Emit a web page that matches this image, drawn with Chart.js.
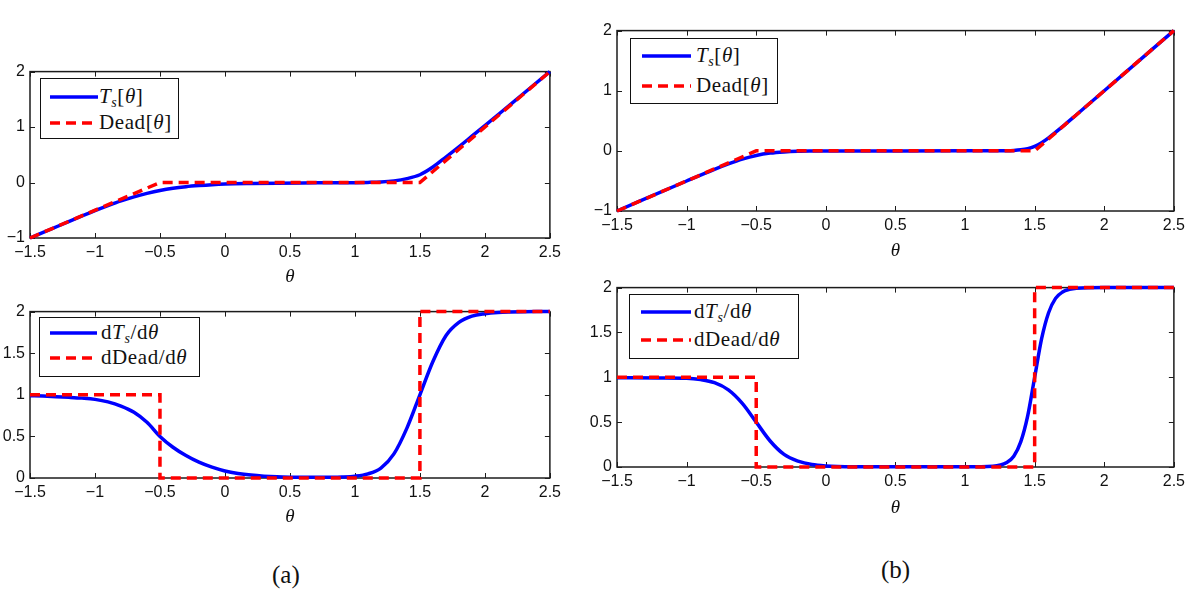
<!DOCTYPE html>
<html>
<head>
<meta charset="utf-8">
<script src="https://cdn.jsdelivr.net/npm/chart.js@4.4.1/dist/chart.umd.min.js"></script>
<style>
body{margin:0;background:#fff;width:1196px;height:597px;position:relative;overflow:hidden}
canvas{position:absolute}
.leg{position:absolute;border:1.5px solid #111;background:#fff;box-sizing:border-box;font-family:"Liberation Serif","Times New Roman",serif;font-size:21px;color:#111;letter-spacing:0.6px}
.row{position:absolute;left:0;height:0}
.row svg{position:absolute;top:-3px}
.row span{position:absolute;top:-13px;white-space:nowrap;line-height:24px}
.row sub{font-size:14px;vertical-align:-4px;line-height:0}
.cap{position:absolute;font-family:"Liberation Serif","Times New Roman",serif;font-size:25px;color:#111}
</style>
</head>
<body>
<canvas id="aTop"></canvas>
<canvas id="aBot"></canvas>
<canvas id="bTop"></canvas>
<canvas id="bBot"></canvas>

<div class="leg" style="left:40px;top:78px;width:139px;height:61px">
  <div class="row" style="top:18px"><svg style="left:9px" width="48" height="6"><line x1="0" y1="3" x2="48" y2="3" stroke="#0000ff" stroke-width="3.5"/></svg><span style="left:58px"><i>T</i><sub><i>s</i></sub>[<i>θ</i>]</span></div>
  <div class="row" style="top:44px"><svg style="left:9px" width="48" height="6"><line x1="0" y1="3" x2="48" y2="3" stroke="#ff0000" stroke-width="3.5" stroke-dasharray="10 6"/></svg><span style="left:58px">Dead[<i>θ</i>]</span></div>
</div>
<div class="leg" style="left:39px;top:317px;width:161px;height:60px">
  <div class="row" style="top:15px"><svg style="left:10px" width="47" height="6"><line x1="0" y1="3" x2="47" y2="3" stroke="#0000ff" stroke-width="3.5"/></svg><span style="left:61px">d<i>T</i><sub><i>s</i></sub>/d<i>θ</i></span></div>
  <div class="row" style="top:40px"><svg style="left:10px" width="47" height="6"><line x1="0" y1="3" x2="47" y2="3" stroke="#ff0000" stroke-width="3.5" stroke-dasharray="10 6"/></svg><span style="left:61px">dDead/d<i>θ</i></span></div>
</div>
<div class="leg" style="left:630px;top:38px;width:148px;height:66px">
  <div class="row" style="top:17px"><svg style="left:11px" width="49" height="6"><line x1="0" y1="3" x2="49" y2="3" stroke="#0000ff" stroke-width="3.5"/></svg><span style="left:65px"><i>T</i><sub><i>s</i></sub>[<i>θ</i>]</span></div>
  <div class="row" style="top:47px"><svg style="left:11px" width="49" height="6"><line x1="0" y1="3" x2="49" y2="3" stroke="#ff0000" stroke-width="3.5" stroke-dasharray="10 6"/></svg><span style="left:65px">Dead[<i>θ</i>]</span></div>
</div>
<div class="leg" style="left:629px;top:294px;width:170px;height:65px">
  <div class="row" style="top:17px"><svg style="left:11px" width="50" height="6"><line x1="0" y1="3" x2="50" y2="3" stroke="#0000ff" stroke-width="3.5"/></svg><span style="left:64px">d<i>T</i><sub><i>s</i></sub>/d<i>θ</i></span></div>
  <div class="row" style="top:45px"><svg style="left:11px" width="50" height="6"><line x1="0" y1="3" x2="50" y2="3" stroke="#ff0000" stroke-width="3.5" stroke-dasharray="10 6"/></svg><span style="left:64px">dDead/d<i>θ</i></span></div>
</div>

<div class="cap" style="left:272px;top:561px">(a)</div>
<div class="cap" style="left:881px;top:556px">(b)</div>

<script>
// ticks
var xTicks = [-1.5, -1, -0.5, 0, 0.5, 1, 1.5, 2, 2.5];
var yTicksTop = [-1, 0, 1, 2];
var yTicksBot = [0, 0.5, 1, 1.5, 2];

// dead zone and its derivative (same in both figures)
var deadTheta = [-1.5, -0.5, 1.5, 2.5];
var deadVal = [-1, 0, 0, 2];
var dDeadTheta = [-1.5, -0.5, -0.5, 1.5, 1.5, 2.5];
var dDeadVal = [1, 1, 0, 0, 2, 2];

// (a) smooth curve
var tsThetaA = [-1.5, -1.25, -1.0, -0.9, -0.8, -0.7, -0.6, -0.5, -0.4, -0.3, -0.2, -0.1, 0, 0.2, 0.4, 0.6, 0.8, 1.0, 1.1, 1.2, 1.3, 1.4, 1.5, 1.6, 1.7, 1.8, 1.9, 2.0, 2.2, 2.5];
var tsA = [-1.0, -0.752, -0.508, -0.417, -0.332, -0.258, -0.195, -0.142, -0.102, -0.074, -0.054, -0.038, -0.027, -0.017, -0.011, -0.007, -0.005, -0.002, 0.002, 0.01, 0.03, 0.07, 0.14, 0.28, 0.46, 0.645, 0.835, 1.025, 1.415, 2.0];
var dThetaA = [-1.5, -1.4, -1.3, -1.2, -1.1, -1.0, -0.9, -0.8, -0.7, -0.6, -0.5, -0.4, -0.3, -0.2, -0.1, 0, 0.1, 0.2, 0.3, 0.4, 0.5, 0.6, 0.7, 0.8, 0.9, 1.0, 1.1, 1.2, 1.3, 1.4, 1.5, 1.6, 1.7, 1.8, 1.9, 2.0, 2.1, 2.2, 2.3, 2.4, 2.5];
var dTsA = [0.99, 0.985, 0.978, 0.97, 0.96, 0.945, 0.915, 0.865, 0.79, 0.67, 0.50, 0.37, 0.27, 0.19, 0.13, 0.085, 0.055, 0.035, 0.022, 0.014, 0.01, 0.008, 0.008, 0.009, 0.012, 0.022, 0.05, 0.12, 0.29, 0.6, 1.0, 1.4, 1.71, 1.87, 1.945, 1.975, 1.99, 1.996, 1.999, 2.0, 2.0];

// (b) smooth curve
var tsThetaB = [-1.5, -1.0, -0.8, -0.7, -0.6, -0.5, -0.4, -0.3, -0.2, -0.1, 0, 1.0, 1.3, 1.35, 1.4, 1.45, 1.5, 1.55, 1.6, 1.7, 1.8, 2.0, 2.5];
var tsB = [-1.0, -0.501, -0.307, -0.217, -0.137, -0.076, -0.037, -0.017, -0.007, -0.003, -0.001, 0.0, 0.003, 0.007, 0.017, 0.037, 0.076, 0.137, 0.217, 0.403, 0.601, 1.0, 2.0];
var dThetaB = [-1.5, -1.2, -1.0, -0.9, -0.8, -0.7, -0.6, -0.5, -0.4, -0.3, -0.2, -0.1, 0, 0.2, 0.5, 1.0, 1.2, 1.3, 1.35, 1.4, 1.45, 1.5, 1.55, 1.6, 1.65, 1.7, 1.75, 1.8, 2.0, 2.5];
var dTsB = [0.995, 0.993, 0.99, 0.975, 0.94, 0.86, 0.71, 0.50, 0.29, 0.14, 0.065, 0.027, 0.012, 0.004, 0.003, 0.003, 0.009, 0.05, 0.12, 0.28, 0.57, 1.0, 1.43, 1.72, 1.88, 1.95, 1.98, 1.993, 2.0, 2.0];

function pts(xs, ys) {
    return xs.map(function (x, i) { return {x: x, y: ys[i]}; });
}

function fmt(v) {
    return String(v).replace('-', '\u2212');
}

// matlab style box with inward ticks on all four sides
var boxPlugin = {
    id: 'box',
    beforeDatasetsDraw: function (chart) {
        var ctx = chart.ctx, a = chart.chartArea, x = chart.scales.x, y = chart.scales.y;
        ctx.save();
        ctx.strokeStyle = '#1c1c1c';
        ctx.lineWidth = 1.5;
        ctx.strokeRect(a.left, a.top, a.right - a.left, a.bottom - a.top);
        ctx.lineWidth = 1;
        ctx.beginPath();
        x.ticks.forEach(function (t) {
            var px = Math.round(x.getPixelForValue(t.value)) + 0.5;
            ctx.moveTo(px, a.bottom); ctx.lineTo(px, a.bottom - 5);
            ctx.moveTo(px, a.top); ctx.lineTo(px, a.top + 5);
        });
        y.ticks.forEach(function (t) {
            var py = Math.round(y.getPixelForValue(t.value)) + 0.5;
            ctx.moveTo(a.left, py); ctx.lineTo(a.left + 5, py);
            ctx.moveTo(a.right, py); ctx.lineTo(a.right - 5, py);
        });
        ctx.stroke();
        ctx.restore();
    }
};

function panel(id, area, yTicks, blue, red, titleY) {
    var padL = 40, padT = 10, padR = 14, padB = titleY + 11;
    var c = document.getElementById(id);
    c.style.left = (area[0] - padL) + 'px';
    c.style.top = (area[2] - padT) + 'px';
    c.width = area[1] - area[0] + padL + padR;
    c.height = area[3] - area[2] + padT + padB;
    var tickFont = {family: 'Liberation Sans', size: 16};
    return new Chart(c, {
        type: 'line',
        data: {
            datasets: [{
                data: blue,
                borderColor: '#0000ff',
                borderWidth: 3.5,
                pointRadius: 0,
                cubicInterpolationMode: 'monotone',
                clip: 4,
                order: 1
            }, {
                data: red,
                borderColor: '#ff0000',
                borderWidth: 3.5,
                borderDash: [10, 6],
                pointRadius: 0,
                tension: 0,
                clip: 4,
                order: 0
            }]
        },
        options: {
            responsive: false,
            animation: false,
            devicePixelRatio: 1,
            layout: {padding: {left: 0, top: padT, right: padR, bottom: 0}},
            plugins: {legend: {display: false}, tooltip: {enabled: false}},
            scales: {
                x: {
                    type: 'linear',
                    min: -1.5,
                    max: 2.5,
                    grid: {display: false, drawTicks: false},
                    border: {display: false},
                    afterBuildTicks: function (s) { s.ticks = xTicks.map(function (v) { return {value: v}; }); },
                    afterFit: function (s) { s.height = padB; },
                    ticks: {font: tickFont, color: '#111', padding: 5, maxRotation: 0, autoSkip: false, callback: fmt},
                    title: {display: true, text: 'θ', color: '#111', padding: 0,
                        font: {family: 'Liberation Serif', size: 19, style: 'italic'}}
                },
                y: {
                    min: yTicks[0],
                    max: yTicks[yTicks.length - 1],
                    grid: {display: false, drawTicks: false},
                    border: {display: false},
                    afterBuildTicks: function (s) { s.ticks = yTicks.map(function (v) { return {value: v}; }); },
                    afterFit: function (s) { s.width = padL; },
                    ticks: {font: tickFont, color: '#111', padding: 5, autoSkip: false, callback: fmt}
                }
            }
        },
        plugins: [boxPlugin]
    });
}

panel('aTop', [30, 552, 67, 238], yTicksTop, pts(tsThetaA, tsA), pts(deadTheta, deadVal), 39);
panel('aBot', [30, 552, 307, 478], yTicksBot, pts(dThetaA, dTsA), pts(dDeadTheta, dDeadVal), 39);
panel('bTop', [617, 1176, 26, 211], yTicksTop, pts(tsThetaB, tsB), pts(deadTheta, deadVal), 40);
panel('bBot', [617, 1176, 283, 467], yTicksBot, pts(dThetaB, dTsB), pts(dDeadTheta, dDeadVal), 41);
</script>
</body>
</html>
